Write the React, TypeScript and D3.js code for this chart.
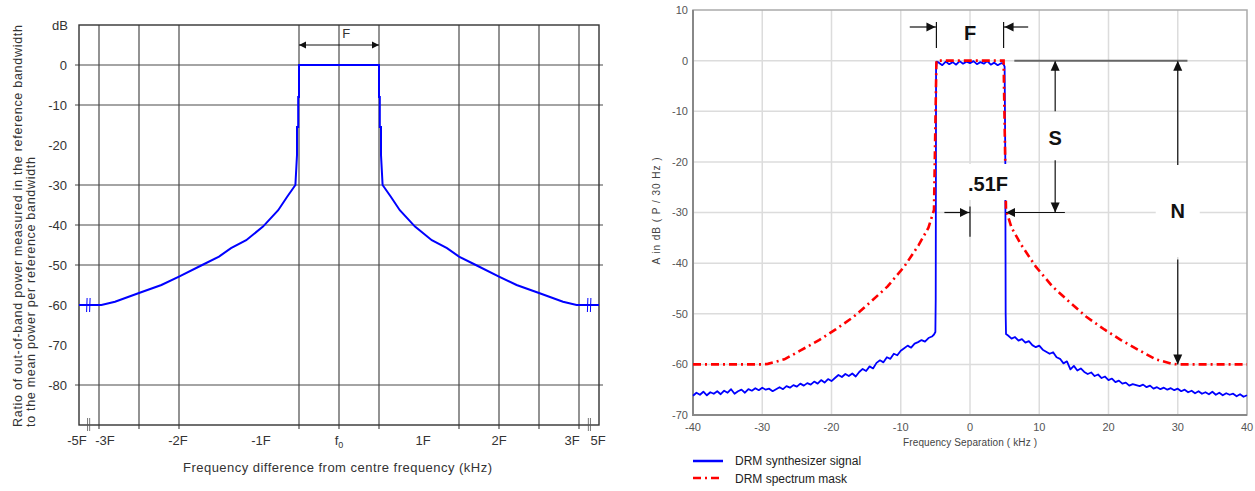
import * as d3 from "d3";
import React, { useEffect, useRef } from "react";

// LEFT CHART - ITU out-of-band mask, x in units of F (axis is broken, +-3.25 stands for +-5F)
const maskOffsetF = [0.5, 0.5, 0.51, 0.51, 0.525, 0.525, 0.545, 0.65, 0.76, 0.95, 1.16, 1.35, 1.5, 1.71, 2.0, 2.22, 2.5, 2.8, 2.97, 3.25];
const maskLevelDb = [0, -8, -8, -15.5, -15.5, -22.5, -30, -33, -36.3, -40.4, -43.8, -45.8, -47.9, -50, -52.9, -55, -57, -59.2, -60, -60];
const leftYTicks = [0, -10, -20, -30, -40, -50, -60, -70, -80];
const leftHGrid = [0, -10, -30, -40, -50, -80];
const leftVGrid = [-3, -2.5, -2, -0.5, 0, 0.5, 1.5, 2, 2.5, 3];
const leftXTicks = [-3.25, -3, -2, -1, 0, 1, 2, 3, 3.25];
const leftXLabels = ["-5F", "-3F", "-2F", "-1F", "f0", "1F", "2F", "3F", "5F"];

// RIGHT CHART - DRM spectrum mask (kHz, dB), positive side, mirrored
const drmMaskKHz = [4.85, 5.2, 6.0, 7.4, 9.5, 11.9, 14.3, 16.8, 19.4, 21.8, 24.4, 26.8, 29.2, 30, 40];
const drmMaskDb = [0, -29.5, -33, -36.4, -40.7, -44.6, -47.6, -50.6, -53.1, -55.2, -57.2, -59, -59.9, -60, -60];

// DRM synthesizer signal
// lower skirt: -40 .. -5.5 kHz, every 0.5 kHz
const sigLowerDb = [
  -66.2, -65.6, -66.0, -65.4, -66.1, -65.5, -65.8, -65.3, -65.9, -65.2,
  -65.6, -64.9, -65.8, -65.3, -65.0, -65.6, -64.9, -65.2, -64.7, -65.1,
  -64.6, -65.0, -64.8, -65.3, -64.9, -64.5, -64.9, -64.3, -64.6, -64.1,
  -64.4, -63.8, -64.2, -63.7, -64.0, -63.4, -63.8, -63.1, -63.6, -62.9,
  -63.3, -62.7, -62.1, -62.5, -61.9, -62.3, -61.8, -62.4, -61.5, -60.9,
  -61.3, -60.4, -60.8, -59.7, -59.2, -59.6, -58.6, -58.9, -57.9, -58.2,
  -57.3, -56.8, -56.3, -56.7, -55.9, -55.6, -55.2, -55.5, -54.8, -54.5,
];
const sigLowEdgeKHz = [-5.2, -5.0, -4.95, -4.9, -4.8];
const sigLowEdgeDb = [-54.1, -53.6, -47, -1.5, -0.2];
// in band: -4.5 .. 4.5 kHz, every 0.5 kHz
const sigBandDb = [-0.4, -0.9, -0.2, -0.7, -0.3, -0.8, -0.1, -0.6, -0.2, -0.5, -0.1, -0.7, -0.3, -0.6, -0.1, -0.8, -0.4, -0.9, -0.5];
const sigHighEdgeKHz = [4.8, 5.0, 5.1, 5.15, 5.2];
const sigHighEdgeDb = [-0.6, -1.2, -20, -50, -54.0];
// upper skirt: 5.5 .. 40 kHz, every 0.5 kHz
const sigUpperDb = [
  -54.3, -54.9, -54.6, -55.3, -55.0, -55.7, -55.4, -56.2, -56.6, -56.3,
  -57.1, -57.5, -57.9, -57.6, -58.6, -58.9, -59.8, -59.4, -61.0, -60.3,
  -61.2, -60.8, -61.5, -61.9, -61.6, -62.3, -62.0, -62.7, -62.4, -63.1,
  -62.8, -63.5, -63.2, -63.8, -63.6, -64.2, -63.9, -64.1, -64.3, -64.0,
  -64.5, -64.2, -64.8, -64.5, -64.9, -64.6, -65.0, -64.7, -65.1, -64.8,
  -65.3, -65.0, -65.5, -65.2, -65.7, -65.3, -65.8, -65.5, -65.9, -65.4,
  -66.0, -65.6, -66.1, -65.7, -66.0, -65.8, -66.3, -65.9, -66.4, -66.1,
];
const rightXTicks = [-40, -30, -20, -10, 0, 10, 20, 30, 40];
const rightYTicks = [10, 0, -10, -20, -30, -40, -50, -60, -70];
const legendLabels = ["DRM synthesizer signal", "DRM spectrum mask"];

export default function App() {
  const svgRef = useRef(null);

  useEffect(() => {
    const svg = d3.select(svgRef.current);
    svg.selectAll("*").remove();
    const font = "'Liberation Sans', Arial, sans-serif";

    const arrow = (g, x, y, dir, len = 8, half = 4) => {
      let pts;
      if (dir === "r") pts = [[x, y], [x - len, y - half], [x - len, y + half]];
      else if (dir === "l") pts = [[x, y], [x + len, y - half], [x + len, y + half]];
      else if (dir === "u") pts = [[x, y], [x - half, y + len], [x + half, y + len]];
      else pts = [[x, y], [x - half, y - len], [x + half, y - len]];
      g.append("polygon").attr("points", pts.map((p) => p.join(",")).join(" ")).attr("fill", "#111");
    };

    /* ---------------- LEFT CHART ---------------- */
    const xL = d3.scaleLinear().domain([-3.25, 3.25]).range([79, 599]);
    const yL = d3.scaleLinear().domain([-90, 10]).range([425, 25]);
    const gl = svg.append("g").attr("font-family", font);

    gl.selectAll(".hg").data(leftHGrid).enter().append("line")
      .attr("x1", xL(-3.25) - 4).attr("x2", xL(3.25) + 4)
      .attr("y1", (d) => yL(d)).attr("y2", (d) => yL(d))
      .attr("stroke", "#4a4a4a").attr("stroke-width", 1.2);
    gl.selectAll(".vg").data(leftVGrid).enter().append("line")
      .attr("x1", (d) => xL(d)).attr("x2", (d) => xL(d))
      .attr("y1", yL(10)).attr("y2", yL(-90) + 4)
      .attr("stroke", "#4a4a4a").attr("stroke-width", 1.2);
    // frame
    gl.append("rect").attr("x", xL(-3.25)).attr("y", yL(10))
      .attr("width", xL(3.25) - xL(-3.25)).attr("height", yL(-90) - yL(10))
      .attr("fill", "none").attr("stroke", "#333").attr("stroke-width", 1.4);

    gl.selectAll(".yt").data(leftYTicks).enter().append("text")
      .attr("x", 67).attr("y", (d) => yL(d)).attr("dy", "0.36em")
      .attr("text-anchor", "end").attr("font-size", 13).attr("fill", "#333")
      .text((d) => d);
    gl.append("text").attr("x", 68).attr("y", 30).attr("text-anchor", "end")
      .attr("font-size", 13).attr("fill", "#333").text("dB");

    const nudge = [-2, 6, -1, 2, 0, 4, 0, -7, -1];
    leftXTicks.forEach((t, i) => {
      const tx = gl.append("text").attr("x", xL(t) + nudge[i]).attr("y", 445)
        .attr("text-anchor", "middle").attr("font-size", 13).attr("fill", "#333");
      if (leftXLabels[i] === "f0") {
        tx.append("tspan").text("f");
        tx.append("tspan").attr("font-size", 9).attr("dy", 3).text("0");
      } else tx.text(leftXLabels[i]);
    });

    gl.append("text").attr("x", 337.5).attr("y", 472).attr("text-anchor", "middle")
      .attr("font-size", 13).attr("fill", "#333")
      .attr("textLength", 309).attr("lengthAdjust", "spacing")
      .text("Frequency difference from centre frequency (kHz)");
    gl.append("text").attr("transform", "translate(22,427) rotate(-90)")
      .attr("font-size", 12.5).attr("fill", "#333")
      .attr("textLength", 402).attr("lengthAdjust", "spacing")
      .text("Ratio of out-of-band power measured in the reference bandwidth");
    gl.append("text").attr("transform", "translate(35,427) rotate(-90)")
      .attr("font-size", 12.5).attr("fill", "#333")
      .attr("textLength", 270).attr("lengthAdjust", "spacing")
      .text("to the mean power per reference bandwidth");

    // mask line, mirrored
    const maskPts = maskOffsetF.map((f, i) => [-f, maskLevelDb[i]]).reverse()
      .concat(maskOffsetF.map((f, i) => [f, maskLevelDb[i]]));
    gl.append("path").datum(maskPts)
      .attr("d", d3.line().x((d) => xL(d[0])).y((d) => yL(d[1])))
      .attr("fill", "none").attr("stroke", "#0000ff").attr("stroke-width", 2);

    // axis break marks
    [-3.13, 3.13].forEach((b) => {
      [-1.5, 1.5].forEach((o) => {
        gl.append("line").attr("x1", xL(b) + o).attr("x2", xL(b) + o - 0.5)
          .attr("y1", yL(-60) - 7).attr("y2", yL(-60) + 7)
          .attr("stroke", "#0000ff").attr("stroke-width", 1);
        gl.append("line").attr("x1", xL(b) + o * 0.7).attr("x2", xL(b) + o * 0.7)
          .attr("y1", yL(-90) - 7).attr("y2", yL(-90) + 6)
          .attr("stroke", "#555").attr("stroke-width", 0.8);
      });
    });

    // F arrow
    const fy = yL(5);
    gl.append("line").attr("x1", xL(-0.5)).attr("x2", xL(0.5)).attr("y1", fy).attr("y2", fy)
      .attr("stroke", "#111").attr("stroke-width", 1);
    arrow(gl, xL(-0.5), fy, "l", 7, 3.5);
    arrow(gl, xL(0.5), fy, "r", 7, 3.5);
    gl.append("text").attr("x", xL(0.09)).attr("y", 38).attr("text-anchor", "middle")
      .attr("font-size", 13).attr("fill", "#333").text("F");

    /* ---------------- RIGHT CHART ---------------- */
    const xR = d3.scaleLinear().domain([-40, 40]).range([693, 1247]);
    const yR = d3.scaleLinear().domain([-70, 10]).range([415, 10]);
    const gr = svg.append("g").attr("font-family", font);

    gr.selectAll(".rv").data(d3.range(-30, 31, 10)).enter().append("line")
      .attr("x1", (d) => xR(d)).attr("x2", (d) => xR(d))
      .attr("y1", yR(10)).attr("y2", yR(-70))
      .attr("stroke", "#dcdcdc").attr("stroke-width", 1.5);
    gr.selectAll(".rh").data(d3.range(-60, 1, 10)).enter().append("line")
      .attr("x1", xR(-40)).attr("x2", xR(40))
      .attr("y1", (d) => yR(d)).attr("y2", (d) => yR(d))
      .attr("stroke", "#dcdcdc").attr("stroke-width", 1.5);
    gr.append("rect").attr("x", xR(-40)).attr("y", yR(10))
      .attr("width", xR(40) - xR(-40)).attr("height", yR(-70) - yR(10))
      .attr("fill", "none").attr("stroke", "#aaa").attr("stroke-width", 1.5);
    gr.append("path")
      .attr("d", `M${xR(-40)},${yR(10)}V${yR(-70)}H${xR(40)}`)
      .attr("fill", "none").attr("stroke", "#888").attr("stroke-width", 2);

    gr.selectAll(".ryt").data(rightYTicks).enter().append("text")
      .attr("x", 688).attr("y", (d) => yR(d)).attr("dy", "0.36em")
      .attr("text-anchor", "end").attr("font-size", 11).attr("fill", "#555")
      .text((d) => d);
    gr.selectAll(".rxt").data(rightXTicks).enter().append("text")
      .attr("x", (d) => xR(d)).attr("y", 431)
      .attr("text-anchor", "middle").attr("font-size", 11).attr("fill", "#555")
      .text((d) => d);
    gr.append("text").attr("x", 970).attr("y", 446).attr("text-anchor", "middle")
      .attr("font-size", 10).attr("fill", "#444")
      .attr("textLength", 134).attr("lengthAdjust", "spacing")
      .text("Frequency Separation ( kHz )");
    gr.append("text").attr("transform", "translate(660,211) rotate(-90)")
      .attr("text-anchor", "middle").attr("font-size", 10).attr("fill", "#444")
      .attr("textLength", 107).attr("lengthAdjust", "spacing")
      .text("A in dB ( P / 30 Hz )");

    // signal
    const sig = [];
    sigLowerDb.forEach((v, i) => sig.push([-40 + i * 0.5, v]));
    sigLowEdgeKHz.forEach((k, i) => sig.push([k, sigLowEdgeDb[i]]));
    sigBandDb.forEach((v, i) => sig.push([-4.5 + i * 0.5, v]));
    sigHighEdgeKHz.forEach((k, i) => sig.push([k, sigHighEdgeDb[i]]));
    sigUpperDb.forEach((v, i) => sig.push([5.5 + i * 0.5, v]));
    const lineR = d3.line().x((d) => xR(d[0])).y((d) => yR(d[1]));
    gr.append("path").datum(sig).attr("d", lineR)
      .attr("fill", "none").attr("stroke", "#0000ff").attr("stroke-width", 1.8)
      .attr("stroke-linejoin", "round");

    const drmPts = drmMaskKHz.map((k, i) => [-k, drmMaskDb[i]]).reverse()
      .concat(drmMaskKHz.map((k, i) => [k, drmMaskDb[i]]));
    gr.append("path").datum(drmPts).attr("d", lineR)
      .attr("fill", "none").attr("stroke", "#ff0000").attr("stroke-width", 2.6)
      .attr("stroke-dasharray", "8,4,2,4");

    // white label boxes
    gr.append("rect").attr("x", 963).attr("y", 164).attr("width", 50).attr("height", 36).attr("fill", "#fff");
    gr.append("rect").attr("x", xR(30) - 22).attr("y", 165).attr("width", 44).attr("height", 92).attr("fill", "#fff");

    // annotations
    const ga = gr.append("g").attr("stroke", "#111").attr("stroke-width", 1.2);
    const fY = 27;
    ga.append("line").attr("x1", xR(-8.7)).attr("x2", xR(-4.85)).attr("y1", fY).attr("y2", fY);
    ga.append("line").attr("x1", xR(-4.85)).attr("x2", xR(-4.85)).attr("y1", 22).attr("y2", 48);
    ga.append("line").attr("x1", xR(8.4)).attr("x2", xR(4.85)).attr("y1", fY).attr("y2", fY);
    ga.append("line").attr("x1", xR(4.85)).attr("x2", xR(4.85)).attr("y1", 22).attr("y2", 48);
    arrow(gr, xR(-4.85) - 1, fY, "r", 9, 4.5);
    arrow(gr, xR(4.85) + 1, fY, "l", 9, 4.5);

    gr.append("line").attr("x1", xR(6.4)).attr("x2", xR(31.4)).attr("y1", yR(0)).attr("y2", yR(0))
      .attr("stroke", "#666").attr("stroke-width", 2);

    // S
    const sx = xR(12.3);
    ga.append("line").attr("x1", sx).attr("x2", sx).attr("y1", yR(0)).attr("y2", yR(-10));
    ga.append("line").attr("x1", sx).attr("x2", sx).attr("y1", yR(-19.7)).attr("y2", yR(-30));
    arrow(gr, sx, yR(0), "u", 10, 4.5);
    arrow(gr, sx, yR(-30), "d", 10, 4.5);
    ga.append("line").attr("x1", xR(5.2)).attr("x2", xR(13.7)).attr("y1", yR(-30)).attr("y2", yR(-30));
    arrow(gr, xR(5.2), yR(-30), "l", 9, 4.5);

    // .51F
    ga.append("line").attr("x1", xR(-3.7)).attr("x2", xR(0)).attr("y1", yR(-30)).attr("y2", yR(-30));
    ga.append("line").attr("x1", xR(0)).attr("x2", xR(0)).attr("y1", yR(-28.8)).attr("y2", yR(-34.8));
    arrow(gr, xR(0) - 1, yR(-30), "r", 9, 4.5);

    // N
    const nx = xR(30);
    ga.append("line").attr("x1", nx).attr("x2", nx).attr("y1", yR(0)).attr("y2", yR(-20.6));
    ga.append("line").attr("x1", nx).attr("x2", nx).attr("y1", yR(-39.3)).attr("y2", yR(-60));
    arrow(gr, nx, yR(0), "u", 10, 4.5);
    arrow(gr, nx, yR(-60), "d", 10, 4.5);

    const bold = (x, y, t) =>
      gr.append("text").attr("x", x).attr("y", y).attr("text-anchor", "middle")
        .attr("font-size", 20).attr("font-weight", "bold").attr("fill", "#111").text(t);
    bold(xR(0), 40, "F");
    bold(sx, 145, "S");
    bold(988, 191, ".51F");
    bold(nx, 218, "N");

    // legend
    gr.append("line").attr("x1", 693).attr("x2", 723).attr("y1", 461).attr("y2", 461)
      .attr("stroke", "#0000ff").attr("stroke-width", 2.5);
    gr.append("line").attr("x1", 693).attr("x2", 723).attr("y1", 478).attr("y2", 478)
      .attr("stroke", "#ff0000").attr("stroke-width", 2.6).attr("stroke-dasharray", "8,4,2,4");
    legendLabels.forEach((l, i) => {
      gr.append("text").attr("x", 735).attr("y", 465 + i * 18)
        .attr("font-size", 12).attr("fill", "#222").text(l);
    });
  });

  return (
    <div>
      <svg
        ref={svgRef}
        width={1255}
        height={491}
        style={{ position: "absolute", left: 0, top: 0, background: "#fff" }}
      ></svg>
    </div>
  );
}
